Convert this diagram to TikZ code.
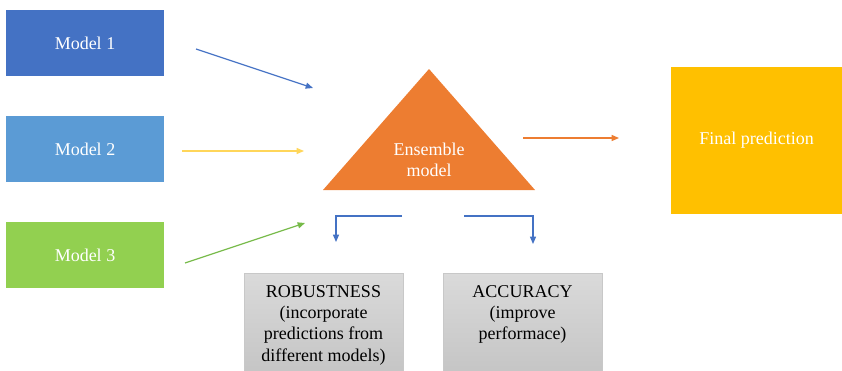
\documentclass[tikz,border=0pt]{standalone}
\usepackage{fontspec}
\setmainfont{Liberation Serif}
\usepackage{xcolor}
\usetikzlibrary{arrows.meta, positioning}

\definecolor{modelone}{RGB}{68,114,196}
\definecolor{modeltwo}{RGB}{91,155,213}
\definecolor{modelthree}{RGB}{146,208,80}
\definecolor{ensorange}{RGB}{237,125,49}
\definecolor{finalgold}{RGB}{255,192,0}
\definecolor{arryellow}{RGB}{255,214,90}
\definecolor{arrgreen}{RGB}{118,186,72}
\definecolor{grytop}{RGB}{218,218,218}
\definecolor{grybot}{RGB}{196,196,196}
\definecolor{gryedge}{RGB}{200,200,200}

\tikzset{
  txt/.style={font=\fontsize{13.5}{16}\selectfont},
  modelbox/.style={txt, text=white, minimum width=118.5pt, minimum height=49.5pt, inner sep=0pt},
  finalbox/.style={txt, text=white, fill=finalgold, minimum width=128.25pt, minimum height=110.25pt, inner sep=0pt},
  grybox/.style={draw=gryedge, top color=grytop, bottom color=grybot, minimum width=119.25pt, minimum height=78pt, inner sep=0pt},
  grytext/.style={txt, align=center, inner sep=0pt},
  arr/.style={line width=0.9pt, -{Triangle[length=5.5pt,width=4.5pt]}}
}

\begin{document}
\begin{tikzpicture}[x=0.75pt,y=0.75pt,yscale=-1,xscale=1]
\useasboundingbox (0,0) rectangle (842,371);

% Model boxes
\node[modelbox, fill=modelone] (mone) at (85,43) {Model 1};
\node[modelbox, fill=modeltwo] (mtwo) at (85,149) {Model 2};
\node[modelbox, fill=modelthree] (mthree) at (85,255) {Model 3};

% Ensemble triangle
\coordinate (ensleft) at (323,190);
\coordinate (enstop) at (429,69);
\coordinate (ensright) at (535,190);
\fill[ensorange] (ensleft) -- (enstop) -- (ensright) -- cycle;
\node[txt, text=white, align=center, inner sep=0pt] (ens) at (429,160) {Ensemble\\model};

% Final prediction
\node[finalbox] (final) at (756.5,140.5) {Final prediction};

% Gray boxes
\node[grybox, anchor=north] (rob) at (323.5,273) {};
\node[grytext, below=9pt of rob.north] (robtxt) {ROBUSTNESS\\(incorporate\\predictions from\\different models)};
\node[grybox, anchor=north] (acc) at (522.5,273) {};
\node[grytext, below=9pt of acc.north] (acctxt) {ACCURACY\\(improve\\performace)};

% Arrow ends
\coordinate (oneout) at (196,49);
\coordinate (onein) at (313,88);
\coordinate (twoout) at (182,151);
\coordinate (twoin) at (304,151);
\coordinate (threeout) at (185,263);
\coordinate (threein) at (305,223);
\coordinate (ensout) at (523,138);
\coordinate (finalin) at (619,138);
\coordinate (robout) at (402,216);
\coordinate (robin) at (336,242);
\coordinate (accout) at (464,216);
\coordinate (accin) at (533,244);

%Straight Lines
\draw[arr, modelone] (oneout) -- (onein);
\draw[arr, arryellow] (twoout) -- (twoin);
\draw[arr, arrgreen] (threeout) -- (threein);
\draw[arr, ensorange] (ensout) -- (finalin);
%Elbow Lines
\draw[arr, modelone] (robout) -| (robin);
\draw[arr, modelone] (accout) -| (accin);

\end{tikzpicture}
\end{document}
